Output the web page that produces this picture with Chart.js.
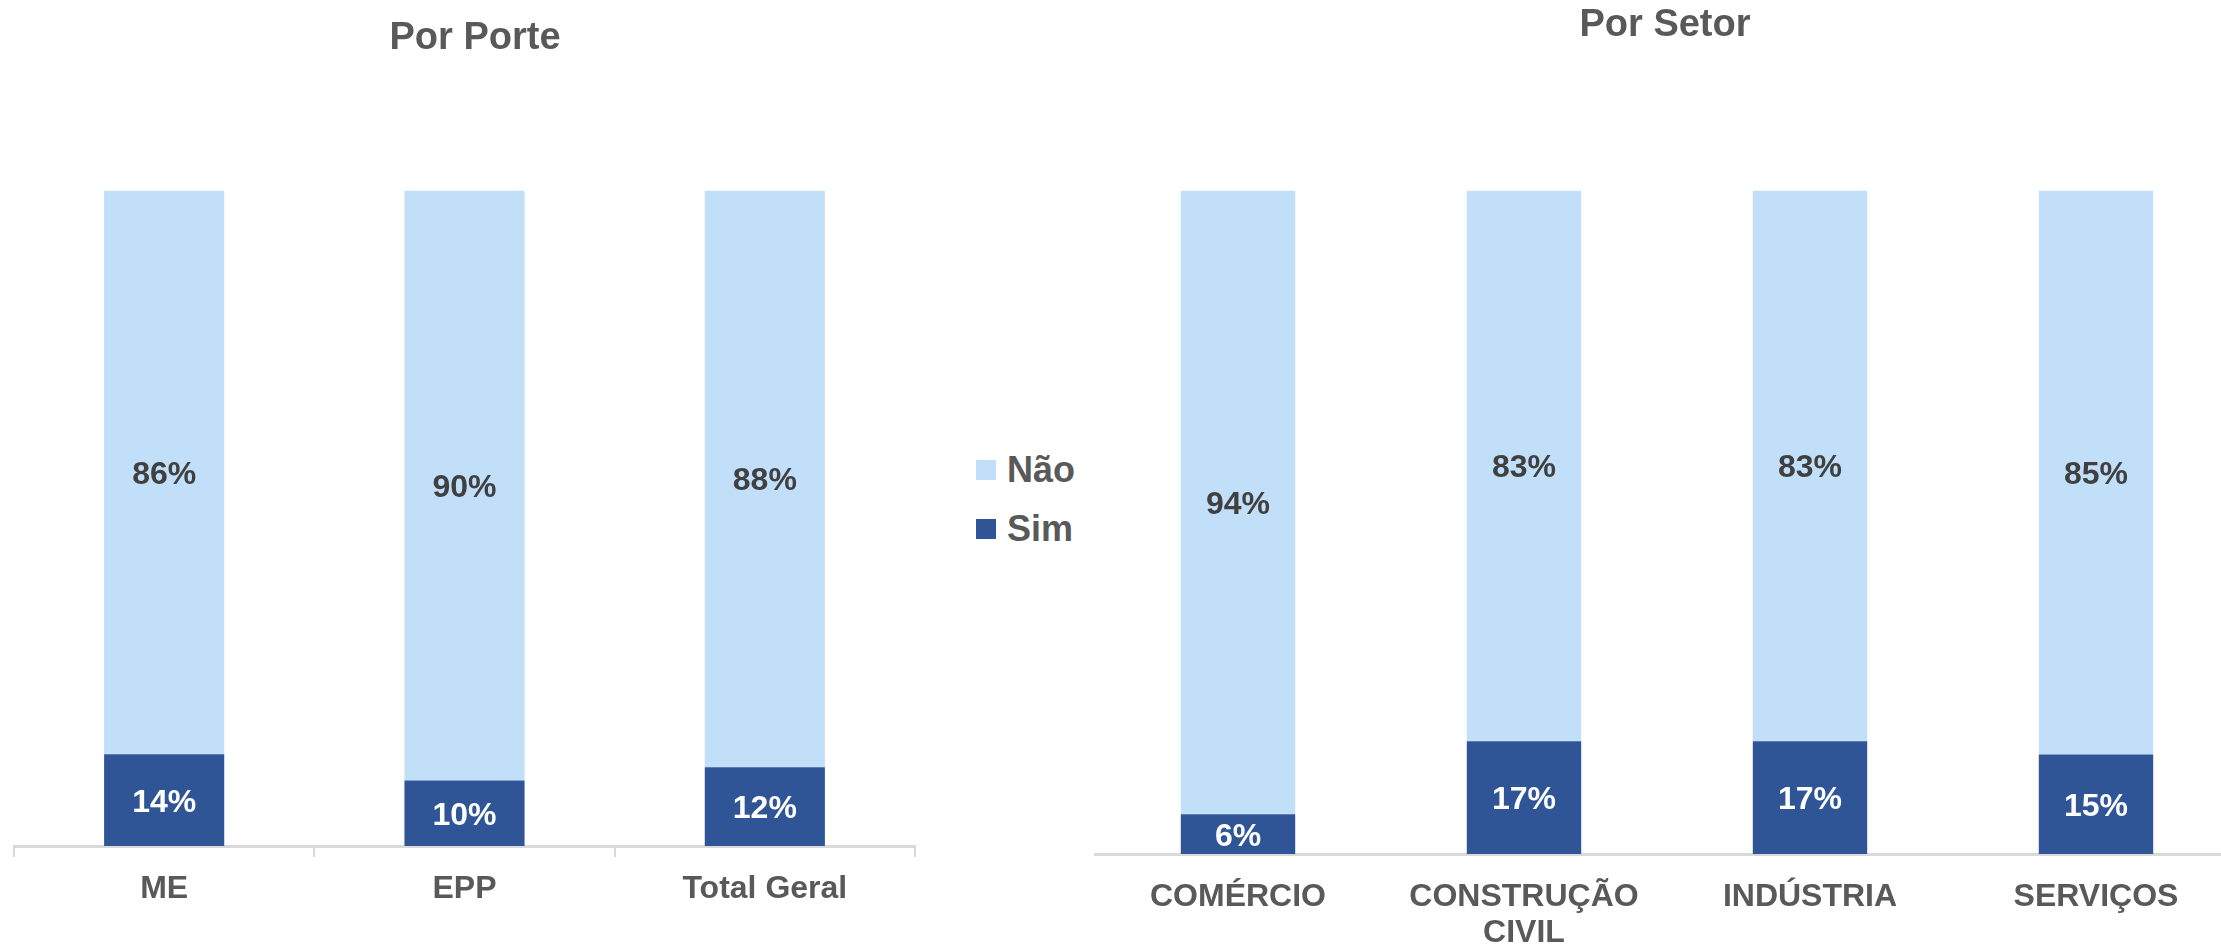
<!DOCTYPE html>
<html lang="pt-BR">
<head>
<meta charset="utf-8">
<title>Por Porte / Por Setor</title>
<script src="https://cdn.jsdelivr.net/npm/chart.js@4.4.1/dist/chart.umd.min.js"></script>
<style>
  html, body { margin: 0; padding: 0; background: #fff; overflow: hidden; }
  body { width: 2221px; height: 947px; position: relative; font-family: "Liberation Sans", Arial, sans-serif; }
  .box { position: absolute; top: 0; height: 947px; }
  #porteBox { left: 0; width: 936px; }
  #setorBox { left: 1091px; width: 1148px; }
  #legend { position: absolute; left: 976px; top: 440px; }
  .item { display: flex; align-items: center; height: 59px; font-size: 36px; font-weight: bold; color: #595959; }
  .swatch { width: 20px; height: 20px; margin-right: 11px; }
</style>
</head>
<body>
<div class="box" id="porteBox"><canvas id="porteChart"></canvas></div>
<div id="legend"></div>
<div class="box" id="setorBox"><canvas id="setorChart"></canvas></div>

<script>
// ---- data ----
const seriesNames = ['Não', 'Sim'];
const seriesColors = ['#C2DFFA', '#2F5597'];
const labelColors = ['#404040', '#FFFFFF'];

const porteCats = ['ME', 'EPP', 'Total Geral'];
const porteNao = [86, 90, 88];
const porteSim = [14, 10, 12];

const setorCats = ['COMÉRCIO', ['CONSTRUÇÃO', 'CIVIL'], 'INDÚSTRIA', 'SERVIÇOS'];
const setorNao = [94, 83, 83, 85];
const setorSim = [6, 17, 17, 15];

const FONT = '"Liberation Sans", Arial, sans-serif';
const GREY = '#595959';
Chart.defaults.font.family = FONT;
Chart.defaults.animation = false;

// percentage text in the middle of every segment
const barLabels = {
  id: 'barLabels',
  afterDatasetsDraw(chart) {
    const ctx = chart.ctx;
    const size = 32;
    ctx.save();
    ctx.font = 'bold ' + size + 'px ' + FONT;
    ctx.textAlign = 'center';
    ctx.textBaseline = 'alphabetic';
    chart.data.datasets.forEach((ds, i) => {
      chart.getDatasetMeta(i).data.forEach((bar, j) => {
        const { x, y, base } = bar.getProps(['x', 'y', 'base'], true);
        ctx.fillStyle = ds.labelColor;
        // center the digits (cap height ~0.716em) on the segment
        ctx.fillText(ds.data[j] + '%', x, (y + base) / 2 + size * 0.358);
      });
    });
    ctx.restore();
  }
};

function stackedChart(id, cats, nao, sim, o) {
  // Sim sits at the bottom of each stack, Não on top
  const datasets = [
    { label: seriesNames[1], data: sim, backgroundColor: seriesColors[1], labelColor: labelColors[1] },
    { label: seriesNames[0], data: nao, backgroundColor: seriesColors[0], labelColor: labelColors[0] }
  ].map(d => Object.assign(d, { barPercentage: 0.4, categoryPercentage: 1, borderWidth: 0 }));

  return new Chart(document.getElementById(id), {
    type: 'bar',
    data: { labels: cats, datasets },
    plugins: [barLabels],
    options: {
      responsive: true,
      maintainAspectRatio: false,
      layout: { padding: { left: o.padLeft, right: 0, top: 0, bottom: 0 } },
      plugins: {
        legend: { display: false },
        tooltip: { enabled: false },
        title: {
          display: true,
          text: o.title,
          color: GREY,
          font: { size: 38, weight: 'bold' },
          padding: { top: o.titleTop, bottom: o.titleBottom }
        }
      },
      scales: {
        x: {
          stacked: true,
          grid: { drawOnChartArea: false, drawTicks: o.ticks, tickLength: 11, color: '#D9D9D9', lineWidth: 2 },
          border: { color: '#D9D9D9', width: 3 },
          ticks: { color: GREY, font: { size: 32, weight: 'bold', lineHeight: 1.13 }, padding: o.labelPad, maxRotation: 0, autoSkip: false },
          afterFit: s => { s.height = o.axisHeight; }
        },
        y: {
          stacked: true,
          min: 0,
          max: 100,
          position: o.yPos,
          grid: { display: false },
          border: { display: false },
          ticks: { display: false },
          afterFit: s => { s.width = o.yWidth; }
        }
      }
    }
  });
}

stackedChart('porteChart', porteCats, porteNao, porteSim, {
  title: 'Por Porte', padLeft: 14, yPos: 'right', yWidth: 21,
  titleTop: 16, titleBottom: 129, axisHeight: 101, ticks: true, labelPad: 14
});

stackedChart('setorChart', setorCats, setorNao, setorSim, {
  title: 'Por Setor', padLeft: 0, yPos: 'left', yWidth: 4,
  titleTop: 3, titleBottom: 142, axisHeight: 93, ticks: false, labelPad: 25
});

// shared legend between the two panels
const legend = document.getElementById('legend');
seriesNames.forEach((name, i) => {
  const row = document.createElement('div');
  row.className = 'item';
  const sw = document.createElement('span');
  sw.className = 'swatch';
  sw.style.background = seriesColors[i];
  row.appendChild(sw);
  row.appendChild(document.createTextNode(name));
  legend.appendChild(row);
});
</script>
</body>
</html>
